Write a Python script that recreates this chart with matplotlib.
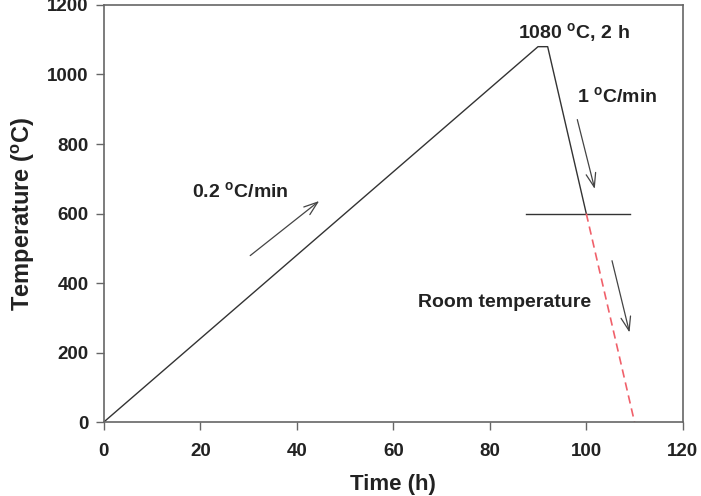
import numpy as np
import matplotlib.pyplot as plt

# Heat treatment profile (time in h, temperature in degC)
time_ramp = [0, 90, 92, 100]
temp_ramp = [0, 1080, 1080, 600]
time_cool = [100, 110]
temp_cool = [600, 0]
time_hold = [87.6, 109]
temp_hold = [600, 600]

x_ticks = [0, 20, 40, 60, 80, 100, 120]
y_ticks = [0, 200, 400, 600, 800, 1000, 1200]

plt.rcParams['font.family'] = 'Liberation Sans'
plt.rcParams['font.weight'] = 'bold'
plt.rcParams['mathtext.fontset'] = 'custom'
plt.rcParams['mathtext.rm'] = 'Liberation Sans:bold'
plt.rcParams['mathtext.bf'] = 'Liberation Sans:bold'

fig = plt.figure(figsize=(7.01, 4.96), dpi=100)
ax = fig.add_axes([0.148, 0.149, 0.826, 0.841])

line_col = "#333333"
ax.plot(time_ramp, temp_ramp, "-", color=line_col, linewidth=1.0)
ax.plot(time_hold, temp_hold, "-", color=line_col, linewidth=1.0)
ax.plot(time_cool, temp_cool, "--", color="#f0606a", linewidth=1.2, dashes=(5, 3))

# Arrows
arrow_kw = dict(arrowstyle="->,head_length=1.0,head_width=0.35", color="#444444", lw=0.9)
ax.annotate("", xy=(45.1, 641), xytext=(29.9, 474), arrowprops=arrow_kw)
ax.annotate("", xy=(101.9, 663), xytext=(98.0, 878), arrowprops=arrow_kw)
ax.annotate("", xy=(109.1, 250), xytext=(105.2, 472), arrowprops=arrow_kw)

# Labels
deg = r"$^{\mathrm{o}}$"
txt_kw = dict(fontsize=14, fontweight="bold", va="center", color="#222222")
ax.text(18.2, 662, "0.2 " + deg + "C/min", ha="left", **txt_kw)
ax.text(85.8, 1119, "1080 " + deg + "C, 2 h", ha="left", **txt_kw)
ax.text(98.0, 935, "1 " + deg + "C/min", ha="left", **txt_kw)
ax.text(101.1, 345, "Room temperature", ha="right", **txt_kw)

ax.set_xlim(0, 120)
ax.set_ylim(0, 1200)
ax.set_xticks(x_ticks)
ax.set_yticks(y_ticks)
ax.tick_params(axis="both", direction="out", length=6, width=1, color="#666666",
               labelsize=13.5, labelcolor="#222222")
ax.tick_params(axis="x", pad=9)
ax.tick_params(axis="y", pad=5)
for lab in ax.get_xticklabels() + ax.get_yticklabels():
    lab.set_fontweight("bold")
for sp in ax.spines.values():
    sp.set_color("#666666")
    sp.set_linewidth(1.2)

ax.set_xlabel("Time (h)", fontsize=16, fontweight="bold", color="#222222")
ax.set_ylabel("Temperature (" + deg + "C)", fontsize=17, fontweight="bold", color="#222222")
ax.xaxis.set_label_coords(0.5, -0.125)
ax.yaxis.set_label_coords(-0.115, 0.5)

plt.savefig("out.png", dpi=100)
plt.close()
